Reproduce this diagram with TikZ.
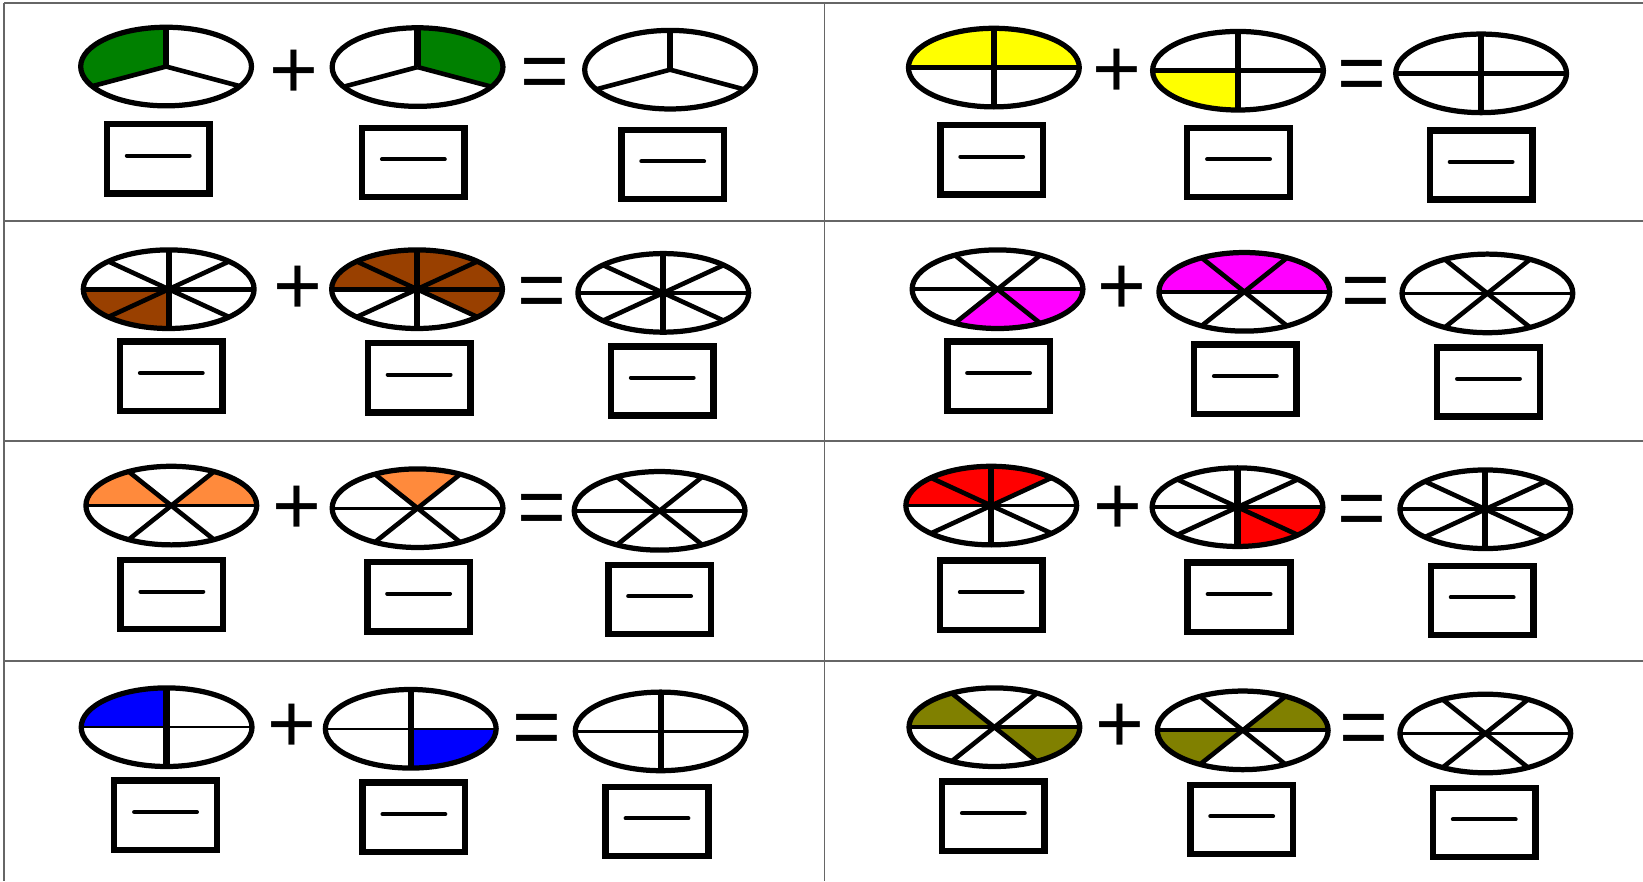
\documentclass[tikz,border=0pt]{standalone}
\usepackage{fontspec}
\newfontfamily\signfont{Liberation Sans}

\definecolor{pieGreen}{RGB}{0,128,0}
\definecolor{pieYellow}{RGB}{255,255,0}
\definecolor{pieBrown}{RGB}{153,64,0}
\definecolor{pieMagenta}{RGB}{255,0,255}
\definecolor{pieOrange}{RGB}{255,138,60}
\definecolor{pieRed}{RGB}{255,0,0}
\definecolor{pieBlue}{RGB}{0,0,255}
\definecolor{pieOlive}{RGB}{128,128,0}

\tikzset{
  rim/.style={line width=2.5pt},
  spoke/.style={line width=2.2pt},
  vspoke/.style={line width=3pt},
  fracbox/.style={draw, line width=3.1pt, minimum width=49pt, minimum height=33pt, inner sep=0pt},
  fracbar/.style={line width=1.9pt, line cap=round},
  sign/.style={font=\signfont\fontsize{40}{40}\selectfont, inner sep=0pt, text height=26.8pt, text depth=0pt},
  gridline/.style={line width=0.8pt, black!60},
}

% pies: half axes 40.75pt x 18.75pt (centre line of the rim)
% #1 centre, #2 number of parts (3, 4, 6 or 8), #3 fill colour,
% #4 shaded sectors as start/end angle pairs, #5 width of the horizontal diameter
\newcommand\fracpie[5]{%
  \begin{scope}[shift={#1}]
    \if\relax\detokenize{#4}\relax\else
      \foreach \a/\b in {#4} {
        \fill[#3] (0pt,0pt) -- (\a:40.75pt and 18.75pt)
          arc[start angle=\a, end angle=\b, x radius=40.75pt, y radius=18.75pt] -- cycle;
      }
    \fi
    \ifnum#2=3
      \foreach \t in {210,330} \draw[spoke] (0pt,0pt) -- (\t:40.75pt and 18.75pt);
      \draw[vspoke] (0pt,0pt) -- (90:40.75pt and 18.75pt);
    \fi
    \ifnum#2=4
      \draw[line width=#5] (180:40.75pt and 18.75pt) -- (0:40.75pt and 18.75pt);
      \draw[vspoke] (90:40.75pt and 18.75pt) -- (270:40.75pt and 18.75pt);
    \fi
    \ifnum#2=6
      \draw[line width=#5] (180:40.75pt and 18.75pt) -- (0:40.75pt and 18.75pt);
      \draw[spoke] (60:40.75pt and 18.75pt) -- (240:40.75pt and 18.75pt);
      \draw[spoke] (120:40.75pt and 18.75pt) -- (300:40.75pt and 18.75pt);
    \fi
    \ifnum#2=8
      \draw[line width=#5] (180:40.75pt and 18.75pt) -- (0:40.75pt and 18.75pt);
      \draw[spoke] (45:40.75pt and 18.75pt) -- (225:40.75pt and 18.75pt);
      \draw[spoke] (135:40.75pt and 18.75pt) -- (315:40.75pt and 18.75pt);
      \draw[vspoke] (90:40.75pt and 18.75pt) -- (270:40.75pt and 18.75pt);
    \fi
    \draw[rim] (0pt,0pt) ellipse[x radius=40.75pt, y radius=18.75pt];
  \end{scope}}

% empty answer box with a fraction bar
\newcommand\answerbox[2]{%
  \node[fracbox] (#1) at #2 {};
  \draw[fracbar] ([xshift=-15pt,yshift=1.5pt]#1.center) -- ([xshift=15pt,yshift=1.5pt]#1.center);}

\begin{document}
\begin{tikzpicture}[x=0.5pt, y=-0.5pt]
\useasboundingbox (0,0) rectangle (1568,841);
\fill[white] (0,0) rectangle (1568,841);

% table rules
\draw[gridline] (4,3) -- (1568,3);
\draw[gridline] (4,3) -- (4,841);
\draw[gridline] (787,3) -- (787,841);
\draw[gridline] (4,211) -- (1568,211);
\draw[gridline] (4,421) -- (1568,421);
\draw[gridline] (4,631) -- (1568,631);

% ---- row 1: thirds and quarters
\fracpie{(158.5,63.5)}{3}{pieGreen}{90/210}{2pt}
\node[sign] (p11) at (281,67) {+};
\fracpie{(398.5,64)}{3}{pieGreen}{-30/90}{2pt}
\node[sign] (e11) at (520,68) {=};
\fracpie{(639.5,66.5)}{3}{pieGreen}{}{2pt}
\answerbox{b111}{(151,151.5)}
\answerbox{b112}{(394.5,155)}
\answerbox{b113}{(642,157)}

\fracpie{(948.5,64.5)}{4}{pieYellow}{0/180}{2.4pt}
\node[sign] (p12) at (1066,66) {+};
\fracpie{(1181.5,67.5)}{4}{pieYellow}{180/270}{2.4pt}
\node[sign] (e12) at (1300,70) {=};
\fracpie{(1413.5,70)}{4}{pieYellow}{}{2.4pt}
\answerbox{b121}{(946.5,152.5)}
\answerbox{b122}{(1182,155)}
\answerbox{b123}{(1413.5,157.5)}

% ---- row 2: eighths and sixths
\fracpie{(161,276)}{8}{pieBrown}{180/270}{2.2pt}
\node[sign] (p21) at (284,273) {+};
\fracpie{(398,276)}{8}{pieBrown}{-45/180}{2.2pt}
\node[sign] (e21) at (517,277) {=};
\fracpie{(633,279.5)}{8}{pieBrown}{}{1.8pt}
\answerbox{b211}{(163.5,359)}
\answerbox{b212}{(400,360.5)}
\answerbox{b213}{(632,363.5)}

\fracpie{(952,276)}{6}{pieMagenta}{240/360}{2pt}
\node[sign] (p22) at (1071,273) {+};
\fracpie{(1187.5,278.5)}{6}{pieMagenta}{0/180}{1.8pt}
\node[sign] (e22) at (1304,277) {=};
\fracpie{(1419.5,280)}{6}{pieMagenta}{}{1.8pt}
\answerbox{b221}{(953,359)}
\answerbox{b222}{(1188.5,362)}
\answerbox{b223}{(1420.5,364.5)}

% ---- row 3: sixths and eighths
\fracpie{(163.5,482.5)}{6}{pieOrange}{0/60,120/180}{1.6pt}
\node[sign] (p31) at (283,483) {+};
\fracpie{(398.5,485)}{6}{pieOrange}{60/120}{1.6pt}
\node[sign] (e31) at (517,484) {=};
\fracpie{(629.5,487.5)}{6}{pieOrange}{}{1.6pt}
\answerbox{b311}{(164,567.5)}
\answerbox{b312}{(399.5,569.5)}
\answerbox{b313}{(629.5,572)}

\fracpie{(946,482.5)}{8}{pieRed}{45/180}{1.8pt}
\node[sign] (p32) at (1067,483) {+};
\fracpie{(1181,484)}{8}{pieRed}{270/360}{1.8pt}
\node[sign] (e32) at (1300,485) {=};
\fracpie{(1417.5,486)}{8}{pieRed}{}{1.8pt}
\answerbox{b321}{(946,568)}
\answerbox{b322}{(1182.5,570)}
\answerbox{b323}{(1414.5,573)}

% ---- row 4: quarters and sixths
\fracpie{(159,694)}{4}{pieBlue}{90/180}{1.2pt}
\node[sign] (p41) at (279,691) {+};
\fracpie{(392,695.5)}{4}{pieBlue}{270/360}{1.2pt}
\node[sign] (e41) at (512,694) {=};
\fracpie{(630.5,698)}{4}{pieBlue}{}{1.2pt}
\answerbox{b411}{(158,778)}
\answerbox{b412}{(395,780)}
\answerbox{b413}{(627,784)}

\fracpie{(949,694)}{6}{pieOlive}{120/180,300/360}{1.8pt}
\node[sign] (p42) at (1069,691) {+};
\fracpie{(1186,697)}{6}{pieOlive}{0/60,180/240}{1.8pt}
\node[sign] (e42) at (1302,694) {=};
\fracpie{(1417.5,700)}{6}{pieOlive}{}{1.8pt}
\answerbox{b421}{(948,779)}
\answerbox{b422}{(1185,782)}
\answerbox{b423}{(1416.5,785)}
\end{tikzpicture}
\end{document}
